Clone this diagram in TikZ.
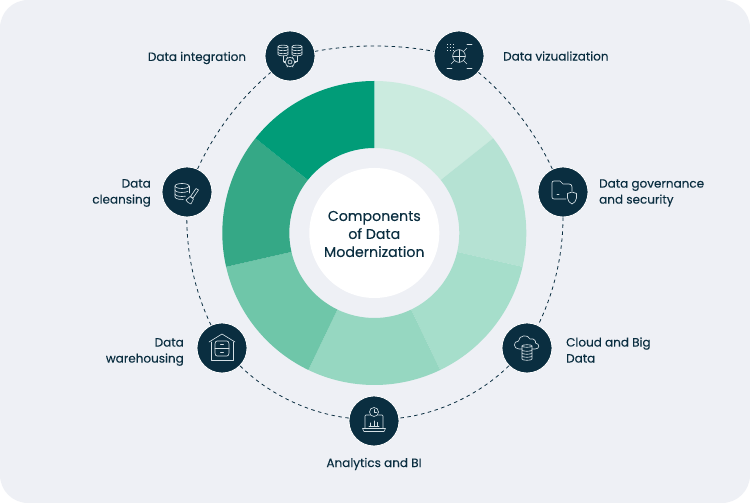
\documentclass[tikz,border=0pt]{standalone}
\usepackage{fontspec}
\setmainfont{Poppins}
\usetikzlibrary{calc}
\definecolor{bgc}{HTML}{EEF0F5}
\definecolor{navy}{HTML}{0A2E40}
\definecolor{icon}{HTML}{D5E0E5}
\definecolor{sa}{HTML}{CBEBDF}
\definecolor{sb}{HTML}{B5E2D3}
\definecolor{sc}{HTML}{A6DECB}
\definecolor{sd}{HTML}{96D7C1}
\definecolor{se}{HTML}{6FC6A9}
\definecolor{sf}{HTML}{35A886}
\definecolor{sg}{HTML}{019C78}
\tikzset{
  x=1pt,y=1pt,
  badge/.style={circle,fill=navy,draw=white,line width=0.8pt,minimum size=50pt,inner sep=0pt},
  lbl/.style={text=navy,font=\fontsize{12}{16}\selectfont\addfontfeature{FakeBold=0.12},inner sep=0pt},
  ringline/.style={draw=navy,line width=0.8pt,dash pattern=on 3.5pt off 3.5pt,looseness=0.85},
  ico/.style={draw=icon,line width=0.65pt,line cap=round,line join=round},
}
% wedge: start angle, end angle, colour
\newcommand{\wedgeseg}[3]{\fill[#3] (#1:152) arc[start angle=#1,end angle=#2,radius=152] -- (#2:85) arc[start angle=#2,end angle=#1,radius=85] -- cycle;}
\newcommand{\minicyl}[4]{% x centre, top y, half width, height
  \draw[ico] (#1-#3,#2) arc[start angle=180,end angle=0,x radius=#3,y radius=1.4] (#1+#3,#2) arc[start angle=0,end angle=-180,x radius=#3,y radius=1.4] -- ++(0,-#4) arc[start angle=180,end angle=360,x radius=#3,y radius=1.4] -- ++(0,#4);
}
\begin{document}
\begin{tikzpicture}
\useasboundingbox (0,0) rectangle (750,503);
\fill[white] (0,0) rectangle (750,503);
\fill[bgc,rounded corners=28pt] (0,0) rectangle (750,503);

% donut
\begin{scope}[shift={(374.3,270)}]
\wedgeseg{90}{38.57}{sa}
\wedgeseg{38.57}{-12.86}{sb}
\wedgeseg{-12.86}{-64.29}{sc}
\wedgeseg{-64.29}{-115.71}{sd}
\wedgeseg{-115.71}{-167.14}{se}
\wedgeseg{-167.14}{-218.57}{sf}
\wedgeseg{141.43}{90}{sg}
\fill[white] (0,0) circle[radius=65];
\end{scope}

\node[lbl,align=center,font=\fontsize{14.2}{18}\selectfont\addfontfeature{FakeBold=0.2}] (title) at (374.3,269) {Components\\of Data\\Modernization};

% badges
\node[badge] (integ) at (290,447) {};
\node[badge] (viz) at (459,447) {};
\node[badge] (gov) at (563,311) {};
\node[badge] (cloud) at (527,155) {};
\node[badge] (ana) at (374,82) {};
\node[badge] (ware) at (222,155) {};
\node[badge] (clean) at (187,311) {};

% dashed ring
\draw[ringline] (integ) to[bend left=10.5] (viz);
\draw[ringline] (viz) to[bend left=12.5] (gov);
\draw[ringline] (gov) to[bend left=13] (cloud);
\draw[ringline] (cloud) to[bend left=19] (ana);
\draw[ringline] (ana) to[bend left=19] (ware);
\draw[ringline] (ware) to[bend left=13] (clean);
\draw[ringline] (clean) to[bend left=12.5] (integ);

% icon: integration
\begin{scope}[shift={(integ)}]
\minicyl{-7}{9.5}{5}{8}
\minicyl{7}{9.5}{5}{8}
\draw[ico] (-12,6.5) arc[start angle=180,end angle=360,x radius=5,y radius=1.2];
\draw[ico] (-12,3.5) arc[start angle=180,end angle=360,x radius=5,y radius=1.2];
\draw[ico] (2,6.5) arc[start angle=180,end angle=360,x radius=5,y radius=1.2];
\draw[ico] (2,3.5) arc[start angle=180,end angle=360,x radius=5,y radius=1.2];
\draw[ico] (-7,0) -- (-7,-5) -- (-5,-5) (7,0) -- (7,-5) -- (5,-5);
\draw[ico] (0,-6) circle[radius=4.8];
\draw[ico] (0,-6) circle[radius=2];
\foreach \a in {0,60,...,300} \draw[ico] (\a:4.8)++(0,-6) -- ++(\a:1.2);
\end{scope}

% icon: visualization
\begin{scope}[shift={(viz)}]
\draw[ico] (0,0) circle[radius=6.3];
\draw[ico] (-6.3,0) -- (6.3,0) (0,6.3) -- (0,-6.3);
\draw[ico] (4.5,4.5) -- (8,8);
\draw[ico] (8,12) -- (13,12);
\draw[ico] (-4.5,-4.5) -- (-8,-8);
\draw[ico] (-12,-12) -- (-7,-12);
\draw[ico] (4.5,-4.5) -- (8,-8);
\draw[ico] (8,-12) -- (13,-12);
\foreach \x in {-12,-9,-6} \foreach \y in {6,9,12} \fill[icon] (\x,\y) rectangle ++(1.2,-1.2);
\end{scope}

% icon: cleansing
\begin{scope}[shift={(clean)}]
\draw[ico] (-12,6) arc[start angle=180,end angle=-180,x radius=7,y radius=2.5];
\draw[ico] (-12,6) -- (-12,-5) arc[start angle=180,end angle=280,x radius=7,y radius=2.5];
\draw[ico] (2,6) -- (2,-1);
\draw[ico] (-12,2) arc[start angle=180,end angle=330,x radius=7,y radius=2.5];
\draw[ico] (-12,-2) arc[start angle=180,end angle=300,x radius=7,y radius=2.5];
\draw[ico] (9,3.5) -- (11.5,2) -- (6,-6) -- (3.5,-4.5) -- cycle;
\draw[ico] (6.5,-7) -- (3,-4.5) .. controls (2,-6) and (0,-7) .. (-1,-8) .. controls (1,-11) and (2,-11) .. (4,-12) .. controls (5,-10) and (6,-9) .. (6.5,-7);
\end{scope}

% icon: governance
\begin{scope}[shift={(gov)}]
\draw[ico] (3,-7) -- (-9,-7) .. controls (-10.5,-7) and (-11,-6) .. (-11,-5) -- (-11,9) .. controls (-11,10) and (-10.5,11) .. (-9,11) -- (-3,11) -- (0,8) -- (6,8) .. controls (8,8) and (9,7) .. (9,5) -- (9,1);
\draw[ico] (-6,-2) -- (-4,-2);
\draw[ico] (9,0) -- (13.5,-1.5) -- (13.5,-6) .. controls (13.5,-9) and (11,-11) .. (9,-12) .. controls (7,-11) and (4.5,-9) .. (4.5,-6) -- (4.5,-1.5) -- cycle;
\end{scope}

% icon: cloud
\begin{scope}[shift={(cloud)}]
\draw[ico] (-5,-1) -- (-8,-1) .. controls (-14,-1) and (-14,7) .. (-8.5,7) .. controls (-8,13) and (1,14) .. (3,9) .. controls (8,10) and (9,6) .. (8.5,5) .. controls (13,4) and (13,-1) .. (8,-1) -- (5,-1);
\draw[ico] (-5,2) arc[start angle=180,end angle=-180,x radius=5,y radius=1.3];
\draw[ico] (-5,2) -- (-5,-11) arc[start angle=180,end angle=360,x radius=5,y radius=1.3] -- (5,2);
\draw[ico] (-5,-2) arc[start angle=180,end angle=360,x radius=5,y radius=1.3];
\draw[ico] (-5,-5) arc[start angle=180,end angle=360,x radius=5,y radius=1.3];
\draw[ico] (-5,-8) arc[start angle=180,end angle=360,x radius=5,y radius=1.3];
\end{scope}

% icon: analytics
\begin{scope}[shift={(ana)}]
\draw[ico] (-4.5,6) -- (-8,6) .. controls (-9,6) and (-9,5) .. (-9,4) -- (-9,-7);
\draw[ico] (4.5,6) -- (8,6) .. controls (9,6) and (9,5) .. (9,4) -- (9,-7);
\draw[ico] (-11.5,-7.5) -- (11.5,-7.5) -- (10,-10.5) -- (-10,-10.5) -- cycle;
\draw[ico] (0,9) circle[radius=4.5];
\draw[ico] (0,11.5) -- (0,9) -- (2.5,9);
\draw[ico] (-5,-5) -- (5,-5);
\draw[ico,line width=1pt] (-3.5,-5) -- (-3.5,-2) (0,-5) -- (0,0) (3.5,-5) -- (3.5,-1.5);
\end{scope}

% icon: warehouse
\begin{scope}[shift={(ware)}]
\draw[ico] (-13,6) -- (0,14) -- (13,6);
\draw[ico] (-11,6) -- (-11,-12) -- (11,-12) -- (11,6);
\draw[ico] (-7,4) .. controls (-7,6) and (-6,7) .. (-5,7) -- (5,7) .. controls (6,7) and (7,6) .. (7,4) -- (7,-5) .. controls (7,-7) and (6,-8) .. (5,-8) -- (-5,-8) .. controls (-6,-8) and (-7,-7) .. (-7,-5) -- cycle;
\draw[ico] (-7,-0.5) -- (7,-0.5);
\draw[ico] (-1.5,3.5) -- (1.5,3.5) (-1.5,-4) -- (1.5,-4);
\end{scope}

% labels
\node[lbl,anchor=center] (t1) at (197,445) {Data integration};
\node[lbl,anchor=west] (t2) at (503,447) {Data vizualization};
\node[lbl,anchor=west,align=left] (t3) at (599,310) {Data governance\\and security};
\node[lbl,anchor=west,align=left] (t4) at (566,153) {Cloud and Big\\Data};
\node[lbl,anchor=center] (t5) at (374,39) {Analytics and BI};
\node[lbl,anchor=east,align=right] (t6) at (184,151) {Data\\warehousing};
\node[lbl,anchor=east,align=right] (t7) at (151,310) {Data\\cleansing};
\end{tikzpicture}
\end{document}
